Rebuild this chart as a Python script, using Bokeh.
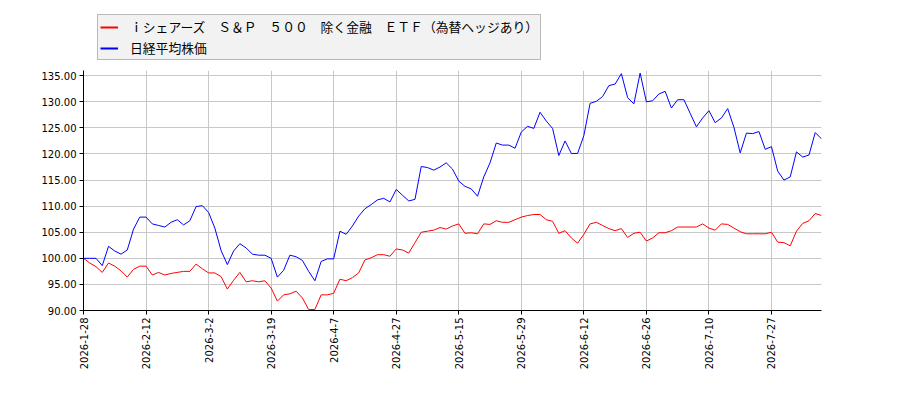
from bokeh.plotting import figure
from bokeh.layouts import column
from bokeh.models import Range1d, FixedTicker, PrintfTickFormatter, Legend, LegendItem
from bokeh.embed import file_html
from bokeh.resources import INLINE

# Data (relative values, first day = 100)
etf_label = "ｉシェアーズ　Ｓ＆Ｐ　５００　除く金融　ＥＴＦ（為替ヘッジあり）"
nikkei_label = "日経平均株価"

tick_labels = ["2026-1-28", "2026-2-12", "2026-3-2", "2026-3-19", "2026-4-7", "2026-4-27",
               "2026-5-15", "2026-5-29", "2026-6-12", "2026-6-26", "2026-7-10", "2026-7-27"]
tick_step = 10

nikkei = [
    100.0, 100.0, 100.0, 98.6, 102.3, 101.4, 100.8, 101.6, 105.6, 107.9,
    107.9, 106.6, 106.3, 106.0, 106.9, 107.4, 106.4, 107.2, 109.9, 110.1,
    108.8, 105.8, 101.5, 98.8, 101.4, 102.8, 102.0, 100.8, 100.6, 100.6,
    100.0, 96.4, 97.7, 100.6, 100.3, 99.6, 97.5, 95.7, 99.4, 99.9,
    99.9, 105.2, 104.6, 106.2, 108.1, 109.5, 110.3, 111.2, 111.5, 110.8,
    113.2, 112.1, 111.0, 111.3, 117.6, 117.4, 116.9, 117.5, 118.3, 117.1,
    114.8, 113.8, 113.3, 111.9, 115.6, 118.3, 122.1, 121.7, 121.7, 121.1,
    124.2, 125.3, 124.9, 128.0, 126.3, 124.9, 119.7, 122.5, 120.1, 120.1,
    123.5, 129.7, 130.1, 131.0, 133.1, 133.4, 135.4, 130.8, 129.6, 135.5,
    130.0, 130.2, 131.5, 132.0, 128.8, 130.4, 130.4, 127.8, 125.2, 126.9,
    128.3, 126.0, 126.9, 128.7, 125.1, 120.2, 124.0, 123.9, 124.3, 120.9,
    121.4, 116.7, 115.0, 115.6, 120.4, 119.4, 119.8, 124.1, 122.9,
]

etf = [
    100.0, 99.1, 98.4, 97.3, 99.1, 98.5, 97.6, 96.4, 97.9, 98.5,
    98.5, 96.8, 97.3, 96.8, 97.1, 97.3, 97.5, 97.5, 98.9, 98.0,
    97.2, 97.2, 96.5, 94.1, 95.8, 97.3, 95.5, 95.7, 95.5, 95.7,
    94.3, 91.8, 93.0, 93.2, 93.7, 92.4, 90.2, 90.2, 93.0, 93.0,
    93.3, 96.0, 95.7, 96.3, 97.2, 99.7, 100.1, 100.7, 100.7, 100.4,
    101.8, 101.6, 101.0, 103.0, 105.0, 105.2, 105.4, 105.9, 105.6, 106.2,
    106.6, 104.8, 104.9, 104.7, 106.6, 106.5, 107.2, 106.9, 106.9, 107.4,
    107.9, 108.2, 108.4, 108.4, 107.4, 107.1, 104.8, 105.3, 103.9, 102.9,
    104.6, 106.6, 106.9, 106.3, 105.7, 105.3, 105.7, 104.0, 104.8, 105.0,
    103.3, 103.9, 104.9, 104.9, 105.3, 106.0, 106.0, 106.0, 106.0, 106.6,
    105.8, 105.4, 106.6, 106.5, 105.8, 105.1, 104.7, 104.7, 104.7, 104.7,
    105.0, 103.1, 103.0, 102.4, 105.2, 106.7, 107.2, 108.6, 108.2,
]

days = list(range(len(nikkei)))
etf_color = "#ff0000"
nikkei_color = "#0000ff"

# Legend strip on top (separate figure, so the legend is not clipped)
# ------------------------------------------------------------------
# its ranges are far from the data, so the lines only feed the legend
p_leg = figure(
    width=900,
    height=70,
    output_backend="svg",
    toolbar_location=None,
    x_range=Range1d(-1000, -999),
    y_range=Range1d(-1000, -999),
    min_border_left=83,
    min_border_right=0,
    min_border_top=0,
    min_border_bottom=0,
)
p_leg.axis.visible = False
p_leg.grid.visible = False
p_leg.outline_line_color = None
leg_etf = p_leg.line(days, etf, line_color=etf_color, line_width=2)
leg_nk = p_leg.line(days, nikkei, line_color=nikkei_color, line_width=2)

legend = Legend(
    items=[LegendItem(label=etf_label, renderers=[leg_etf]),
           LegendItem(label=nikkei_label, renderers=[leg_nk])],
    location="top_left",
    label_text_font="Noto Sans CJK JP",
    label_text_font_size="12.8px",
    label_text_color="black",
    label_height=16,
    glyph_width=18,
    glyph_height=16,
    spacing=2,
    padding=2,
    margin=14,
    label_standoff=12,
    background_fill_color="#f2f2f2",
    background_fill_alpha=1.0,
    border_line_color="#808080",
    border_line_width=1,
)
p_leg.add_layout(legend)

# Main chart
# ----------
p = figure(
    width=900,
    height=330,
    output_backend="svg",
    toolbar_location=None,
    x_range=Range1d(0, len(days) - 1),
    y_range=Range1d(90, 136),
    min_border_left=80,
    min_border_right=79,
    min_border_top=0,
    min_border_bottom=90,
)
p.outline_line_color = None
p.background_fill_color = "white"

# Axes
ticks = [i * tick_step for i in range(len(tick_labels))]
p.xaxis.ticker = FixedTicker(ticks=ticks)
p.xaxis.major_label_overrides = {t: lab for t, lab in zip(ticks, tick_labels)}
p.xaxis.major_label_orientation = 1.5708
p.yaxis.ticker = FixedTicker(ticks=[90, 95, 100, 105, 110, 115, 120, 125, 130, 135])
p.yaxis.formatter = PrintfTickFormatter(format="%.2f")

for ax in (p.xaxis, p.yaxis):
    ax.axis_line_color = "black"
    ax.major_tick_line_color = "black"
    ax.major_tick_out = 4
    ax.major_tick_in = 0
    ax.minor_tick_line_color = None
    ax.major_label_text_font = "DejaVu Sans"
    ax.major_label_text_font_size = "10px"
    ax.major_label_text_color = "black"
    ax.major_label_standoff = 3

p.xgrid.grid_line_color = "#c8c8c8"
p.ygrid.grid_line_color = "#c8c8c8"

# Lines
p.line(days, etf, line_color=etf_color, line_width=1)
p.line(days, nikkei, line_color=nikkei_color, line_width=1)

layout = column(p_leg, p, spacing=0)

open("out.html", "w").write(file_html(layout, INLINE))
